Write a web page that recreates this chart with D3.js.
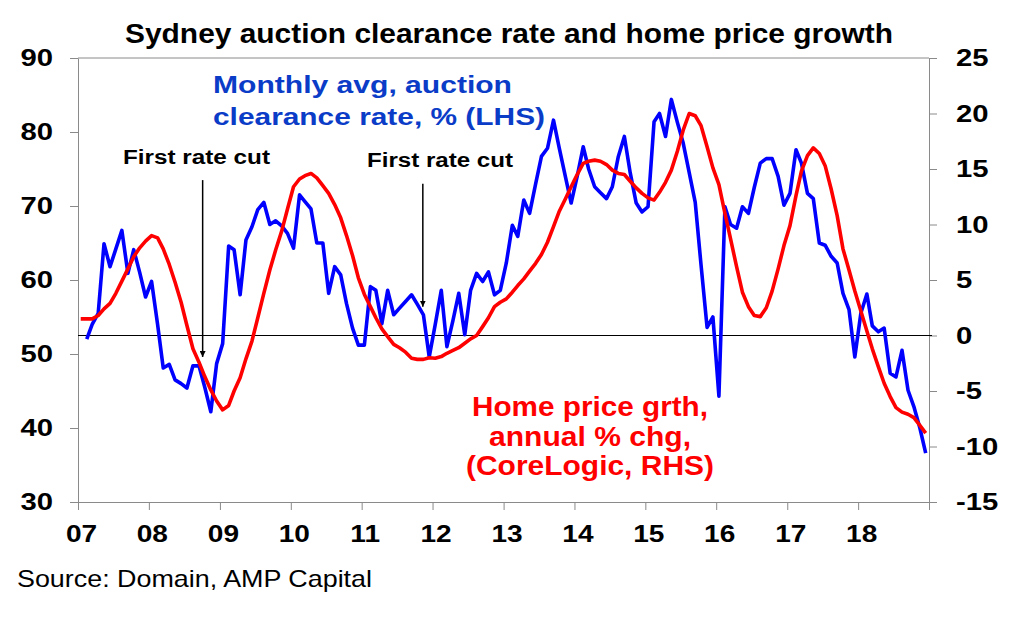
<!DOCTYPE html>
<html>
<head>
<meta charset="utf-8">
<script src="https://cdn.jsdelivr.net/npm/d3@7"></script>
<style>
  body { margin: 0; background: #fff; }
  svg { display: block; font-family: "Liberation Sans", Arial, sans-serif; }
</style>
</head>
<body>
<svg id="chart" width="1024" height="618"></svg>
<script>
// monthly avg auction clearance rate, %, Feb 2007 .. Dec 2018 (LHS)
const clearanceStart = [2007, 1];
const clearance = [
  52.0, 54.0, 55.5, 64.9, 61.8, 64.2, 66.7, 60.9, 64.1, 61.0, 57.7,
  59.8, 54.0, 48.1, 48.6, 46.5, 46.0, 45.4, 48.4, 48.4, 45.5, 42.2, 48.7,
  51.4, 64.6, 64.1, 58.0, 65.4, 67.2, 69.5, 70.5, 67.5, 68.0, 67.3, 66.3,
  64.3, 71.5, 70.6, 69.6, 65.0, 65.0, 58.2, 61.8, 60.7, 56.8, 53.5, 51.2,
  51.2, 59.1, 58.6, 54.1, 58.6, 55.3, 56.2, 57.1, 58.0, 56.7, 55.3, 49.6,
  54.0, 58.6, 51.0, 54.5, 58.2, 52.6, 58.6, 60.9, 59.8, 61.1, 58.0, 58.6,
  62.3, 67.4, 65.9, 70.8, 69.0, 73.0, 76.7, 77.8, 81.6, 77.8, 74.0, 70.4,
  74.0, 78.0, 75.0, 72.6, 71.8, 71.0, 72.6, 76.7, 79.4, 74.5, 70.4, 69.2,
  69.9, 81.4, 82.5, 79.4, 84.4, 81.3, 78.5, 74.5, 70.5, 62.0, 53.6, 55.0,
  44.3, 69.9, 67.5, 67.0, 69.9, 69.0, 72.5, 75.8, 76.4, 76.4, 74.0, 70.1,
  71.7, 77.6, 75.8, 71.7, 71.0, 65.0, 64.7, 63.2, 62.3, 58.2, 56.0, 49.6,
  55.5, 58.1, 53.8, 53.0, 53.5, 47.4, 46.9, 50.5, 45.1, 42.9, 40.0, 36.6
];

// home price growth, annual % chg, Jan 2007 .. Dec 2018 (RHS)
const priceStart = [2007, 0];
const priceGrowth = [
  1.5, 1.5, 1.5, 1.8, 2.4, 2.9, 3.8, 4.9, 6.0, 7.1, 7.9, 8.5,
  9.0, 8.8, 7.8, 6.4, 4.8, 3.0, 0.9, -1.2, -2.4, -3.7, -4.9, -5.9,
  -6.7, -6.3, -5.0, -3.8, -2.1, -0.5, 1.6, 3.8, 5.9, 7.7, 9.4, 11.4,
  13.4, 14.1, 14.4, 14.6, 14.2, 13.5, 12.8, 11.8, 10.6, 9.0, 7.2, 5.2,
  3.7, 2.6, 1.6, 0.6, -0.1, -0.8, -1.1, -1.5, -2.05, -2.15, -2.15, -2.0,
  -2.05, -1.9, -1.6, -1.35, -1.1, -0.7, -0.3, 0.0, 0.8, 1.6, 2.6, 3.0,
  3.3, 3.9, 4.5, 5.1, 5.8, 6.5, 7.3, 8.4, 9.8, 11.2, 12.3, 13.4,
  14.5, 15.5, 15.7, 15.8, 15.7, 15.4, 14.9, 14.6, 14.5, 13.9, 13.3, 12.8,
  12.4, 12.2, 12.9, 13.8, 14.9, 16.6, 18.5, 20.0, 19.8, 18.9, 17.0, 15.1,
  13.6, 11.0, 8.7, 6.2, 3.9, 2.6, 1.8, 1.7, 2.5, 4.0, 6.0, 8.1,
  9.9, 12.6, 14.8, 16.2, 16.9, 16.4, 15.3, 13.2, 10.8, 7.8, 5.9, 4.0,
  2.2, 0.4, -1.2, -2.8, -4.3, -5.5, -6.5, -6.9, -7.1, -7.4, -8.1, -8.8
];

const years = d3.range(2007, 2020);
const yearLabels = ["07","08","09","10","11","12","13","14","15","16","17","18",""];
const leftTicks = [30, 40, 50, 60, 70, 80, 90];
const rightTicks = [-15, -10, -5, 0, 5, 10, 15, 20, 25];

// first rate cuts, with arrow top/tip on the LHS scale
const rateCuts = [
  {date: new Date(2008, 9, 4), top: 73.5, tip: 49.6},
  {date: new Date(2011, 10, 12), top: 73.0, tip: 56.4}
];

const mLeft = 78, mRight = 929, mTop = 58, mBottom = 502;
const svg = d3.select("#chart");

const x = d3.scaleTime()
  .domain([new Date(2007, 0, 1), new Date(2019, 0, 1)])
  .range([mLeft, mRight]);
const yL = d3.scaleLinear().domain([30, 90]).range([mBottom, mTop]);
const yR = d3.scaleLinear().domain([-15, 25]).range([mBottom, mTop]);

const blueData = clearance.map((v, i) => ({date: new Date(clearanceStart[0], clearanceStart[1] + i, 15), v}));
const redData = priceGrowth.map((v, i) => ({date: new Date(priceStart[0], priceStart[1] + i, 15), v}));

const axisColor = "#8a8a8a";

// frame top line
svg.append("line")
  .attr("x1", mLeft).attr("x2", mRight)
  .attr("y1", mTop).attr("y2", mTop)
  .attr("stroke", axisColor).attr("stroke-width", 1);

function styleAxis(g) {
  g.select(".domain").attr("stroke", axisColor).attr("stroke-width", 1);
  g.selectAll(".tick line").attr("stroke", axisColor).attr("stroke-width", 1);
  g.selectAll(".tick text")
    .attr("fill", "#000")
    .attr("font-size", 24)
    .attr("font-weight", "bold");
}

// left axis
const gL = svg.append("g")
  .attr("transform", `translate(${mLeft},0)`)
  .call(d3.axisLeft(yL).tickValues(leftTicks).tickSize(8).tickSizeOuter(0))
  .call(styleAxis);
gL.selectAll(".tick text")
  .attr("x", 0)
  .attr("text-anchor", "end")
  .attr("transform", "translate(-25,0) scale(1.22,1)");

// right axis, plain hyphen for negatives like the original
const gR = svg.append("g")
  .attr("transform", `translate(${mRight},0)`)
  .call(d3.axisRight(yR).tickValues(rightTicks).tickFormat(d => String(d)).tickSize(8).tickSizeOuter(0))
  .call(styleAxis);
gR.selectAll(".tick text")
  .attr("x", 0)
  .attr("text-anchor", "start")
  .attr("transform", "translate(27,0) scale(1.22,1)");

// bottom axis
const gB = svg.append("g")
  .attr("transform", `translate(0,${mBottom})`)
  .call(d3.axisBottom(x)
    .tickValues(years.map(y => new Date(y, 0, 1)))
    .tickFormat((d, i) => yearLabels[i])
    .tickSize(8).tickSizeOuter(0))
  .call(styleAxis);
gB.selectAll(".tick text")
  .attr("y", 0).attr("dy", null)
  .attr("font-size", 23)
  .attr("transform", "translate(3,40) scale(1.22,1)");

// zero line (RHS)
svg.append("line")
  .attr("x1", mLeft).attr("x2", mRight + 3)
  .attr("y1", yR(0)).attr("y2", yR(0))
  .attr("stroke", "#000").attr("stroke-width", 1);

// series
const lineL = d3.line().x(d => x(d.date)).y(d => yL(d.v));
const lineR = d3.line().x(d => x(d.date)).y(d => yR(d.v));

svg.append("path")
  .datum(blueData)
  .attr("d", lineL)
  .attr("fill", "none")
  .attr("stroke", "#0000ff")
  .attr("stroke-width", 3.6)
  .attr("stroke-linejoin", "round");

svg.append("path")
  .datum(redData)
  .attr("d", lineR)
  .attr("fill", "none")
  .attr("stroke", "#ff0000")
  .attr("stroke-width", 3.6)
  .attr("stroke-linejoin", "round");

// arrows
svg.append("defs").append("marker")
  .attr("id", "head")
  .attr("viewBox", "0 0 10 10")
  .attr("refX", 10).attr("refY", 5)
  .attr("markerWidth", 6).attr("markerHeight", 6)
  .attr("markerUnits", "userSpaceOnUse")
  .attr("orient", "auto")
  .append("path").attr("d", "M0,0 L10,5 L0,10 z").attr("fill", "#000");

svg.selectAll(".cut")
  .data(rateCuts)
  .join("line")
  .attr("class", "cut")
  .attr("x1", d => x(d.date)).attr("x2", d => x(d.date))
  .attr("y1", d => yL(d.top)).attr("y2", d => yL(d.tip))
  .attr("stroke", "#000").attr("stroke-width", 1.5)
  .attr("marker-end", "url(#head)");

// texts
function label(txt, xp, yp, opts) {
  const t = svg.append("text")
    .attr("x", xp).attr("y", yp)
    .attr("font-size", opts.size)
    .attr("font-weight", opts.weight || "bold")
    .attr("fill", opts.color || "#000")
    .attr("text-anchor", opts.anchor || "start")
    .text(txt);
  if (opts.len) t.attr("textLength", opts.len).attr("lengthAdjust", "spacingAndGlyphs");
  return t;
}

label("Sydney auction clearance rate and home price growth", 125, 43, {size: 27, len: 768});

label("Monthly avg, auction", 213, 93, {size: 24, color: "#0a3cc8", len: 299});
label("clearance rate, % (LHS)", 213, 125, {size: 24, color: "#0a3cc8", len: 332});

label("First rate cut", 123, 164, {size: 20, len: 147});
label("First rate cut", 367, 167, {size: 20, len: 146});

label("Home price grth,", 590, 416, {size: 27, color: "#ff0000", anchor: "middle", len: 236});
label("annual % chg,", 590, 446, {size: 27, color: "#ff0000", anchor: "middle", len: 202});
label("(CoreLogic, RHS)", 590, 475, {size: 27, color: "#ff0000", anchor: "middle", len: 248});

label("Source: Domain, AMP Capital", 17, 587, {size: 24, weight: "normal", len: 355});
</script>
</body>
</html>
